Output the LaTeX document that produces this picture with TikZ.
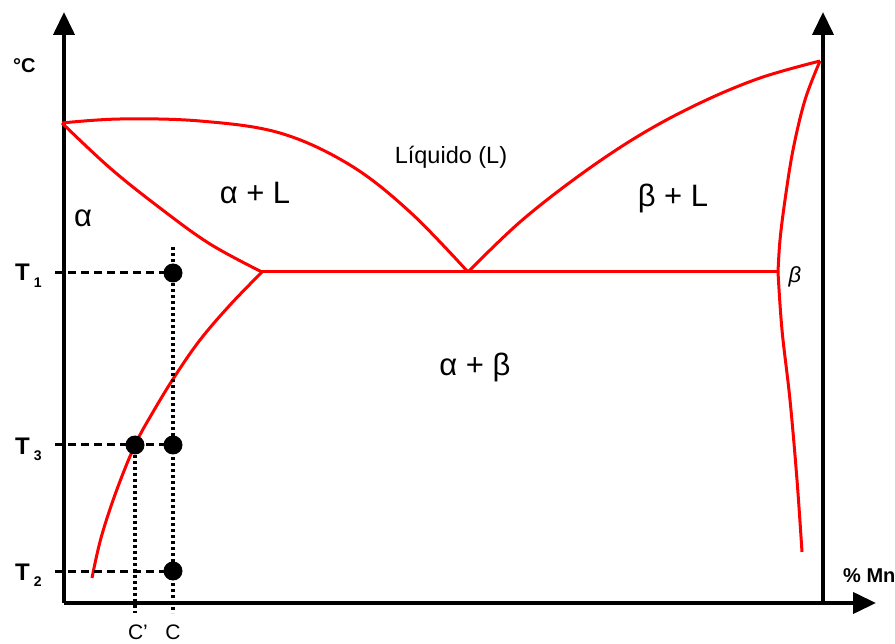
\documentclass[tikz,border=0pt]{standalone}
\usepackage{fontspec}
\setmainfont{Liberation Sans}
\usetikzlibrary{arrows.meta}
\definecolor{phRed}{HTML}{FF0000}
\newcommand{\Tlab}[1]{\textbf{T}\,\raisebox{-0.5ex}{\fontsize{14}{14}\selectfont\textbf{#1}}}

\begin{document}
\begin{tikzpicture}[x=1pt, y=-1pt,
  axis/.style={line width=4pt, -{Triangle[length=23pt, width=21pt]}},
  phase/.style={draw=phRed, line width=3pt, line join=round},
  guide/.style={line width=3pt, dash pattern=on 8pt off 5pt},
  tie/.style={line width=3.5pt, dash pattern=on 3pt off 3pt},
  dot/.style={circle, fill=black, inner sep=0pt, minimum size=19pt},
  region/.style={font=\fontsize{31}{36}\selectfont, inner sep=0pt, anchor=base},
  lab/.style={font=\fontsize{24}{26}\selectfont, inner sep=0pt, anchor=base west}
]
\useasboundingbox (0,0) rectangle (895,644);
% axes
\coordinate (O) at (64,603);
\coordinate (Ytop) at (64,12);
\coordinate (Xend) at (876,603);
\coordinate (Rbot) at (823,603);
\coordinate (Rtop) at (823,12);
\draw[axis] (O) -- (Ytop);
\draw[axis] (O) -- (Xend);
\draw[axis] (Rbot) -- (Rtop);
% key points of the diagram
\coordinate (A) at (62,123);  \coordinate (B) at (820,61);
\coordinate (E) at (468,272); \coordinate (Sa) at (262,272); \coordinate (Sb) at (778,272);
% liquidus and solidus
\draw[phase] plot[smooth, tension=0.6] coordinates {(62,123) (120,119) (200,121) (280,133) (350,165) (410,212) (468,272)};
\draw[phase] plot[smooth, tension=0.6] coordinates {(62,123) (110,168) (160,208) (210,244) (262,272)};
\draw[phase] plot[smooth, tension=0.6] coordinates {(468,272) (520,222) (580,175) (640,135) (700,103) (760,78) (820,61)};
\draw[phase] plot[smooth, tension=0.6] coordinates {(820,61) (805,100) (793,150) (785,200) (780,240) (778,272)};
% eutectic line and solvus
\draw[phase] (Sa) -- (Sb);
\draw[phase] plot[smooth, tension=0.6] coordinates {(262,272) (230,305) (200,340) (175,376) (153,412) (135,445) (116,492) (101,538) (92,578)};
\draw[phase] plot[smooth, tension=0.6] coordinates {(778,272) (782,330) (790,400) (797,480) (802,552)};
% guide lines
\coordinate (g1) at (55,273); \coordinate (g3) at (55,445); \coordinate (g2) at (55,571);
\coordinate (cTop) at (173,247); \coordinate (cBot) at (173,613); \coordinate (cpBot) at (135,613);
\node[dot] (pT3a) at (135,445) {};
\draw[guide] (g1) -- (173,273);
\draw[guide] (g3) -- (173,445);
\draw[guide] (g2) -- (173,571);
\draw[tie] (cTop) -- (cBot);
\draw[tie] (pT3a) -- (cpBot);
\node[dot] (pT1) at (173,273) {};
\node[dot] (pT3) at (173,445) {};
\node[dot] (pT2) at (173,571) {};
% regions
\node[region, font=\fontsize{23.5}{28}\selectfont] (liq) at (451,164) {Líquido (L)};
\node[region] (aL) at (255,204) {α + L};
\node[region] (bL) at (673,207) {β + L};
\node[region] (ab) at (475,376) {α + β};
\node[region] (al) at (83,227) {α};
\node[region, font=\fontsize{22}{26}\selectfont\itshape] (be) at (795,283) {β};
% axis labels
\node[lab, font=\fontsize{20}{24}\selectfont\bfseries] (degC) at (13,73) {°C};
\node[lab] (T1) at (15,281) {\Tlab{1}};
\node[lab] (T3) at (15,454) {\Tlab{3}};
\node[lab] (T2) at (15,580) {\Tlab{2}};
\node[lab, anchor=base, font=\fontsize{21}{24}\selectfont] (Cp) at (138,639) {C'};
\node[lab, anchor=base, font=\fontsize{21}{24}\selectfont] (Cc) at (173,639) {C};
\node[lab, font=\fontsize{20}{24}\selectfont\bfseries] (Mn) at (843,582) {\% Mn};
\end{tikzpicture}
\end{document}
